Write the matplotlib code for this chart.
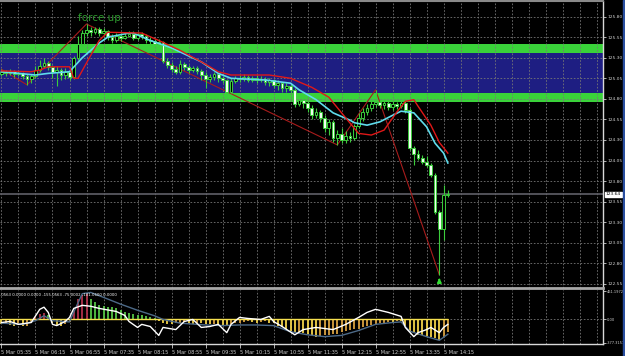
"""MT4-style M5 chart: candles, zones, MAs, zigzag and oscillator sub-window."""

import matplotlib

matplotlib.use("Agg")
import matplotlib.pyplot as plt
import numpy as np
from matplotlib.patches import Rectangle

# ---- data -----------------------------------------------------------------
time_labels = [
    "5 Mar 05:35", "5 Mar 06:15", "5 Mar 06:55", "5 Mar 07:35", "5 Mar 08:15",
    "5 Mar 08:55", "5 Mar 09:35", "5 Mar 10:15", "5 Mar 10:55", "5 Mar 11:35",
    "5 Mar 12:15", "5 Mar 12:55", "5 Mar 13:35", "5 Mar 14:15",
]
label_bars = [0, 8, 16, 24, 32, 40, 48, 56, 64, 72, 80, 88, 96, 104]

opens = [
    125.10, 125.13, 125.11, 125.14, 125.10, 125.11, 125.08, 125.04, 125.08, 125.15,
    125.20, 125.23, 125.19, 125.13, 125.15, 125.09, 125.13, 125.06, 125.30, 125.47,
    125.60, 125.64, 125.61, 125.65, 125.60, 125.62, 125.55, 125.51, 125.56, 125.54,
    125.57, 125.59, 125.54, 125.59, 125.56, 125.51, 125.50, 125.47, 125.49, 125.26,
    125.21, 125.16, 125.13, 125.22, 125.19, 125.15, 125.17, 125.14, 125.09, 125.04,
    125.06, 125.10, 125.05, 125.03, 124.88, 125.02, 125.05, 125.04, 125.06, 125.03,
    125.05, 125.03, 125.04, 125.00, 125.03, 124.97, 124.99, 124.93, 124.96, 124.91,
    124.74, 124.79, 124.75, 124.69, 124.60, 124.64, 124.57, 124.44, 124.52, 124.32,
    124.37, 124.30, 124.35, 124.32, 124.47, 124.57, 124.64, 124.69, 124.74, 124.76,
    124.72, 124.75, 124.70, 124.74, 124.71, 124.75, 124.66, 124.20, 124.13, 124.08,
    124.03, 124.00, 123.87, 123.42, 123.22, 123.63,
]
highs = [
    125.16, 125.15, 125.16, 125.15, 125.14, 125.13, 125.10, 125.10, 125.20, 125.27,
    125.30, 125.26, 125.21, 125.20, 125.17, 125.17, 125.15, 125.32, 125.57, 125.64,
    125.71, 125.67, 125.67, 125.67, 125.66, 125.64, 125.59, 125.60, 125.60, 125.61,
    125.62, 125.62, 125.61, 125.61, 125.59, 125.55, 125.53, 125.53, 125.50, 125.30,
    125.25, 125.20, 125.27, 125.25, 125.21, 125.20, 125.20, 125.16, 125.13, 125.10,
    125.13, 125.11, 125.08, 125.04, 125.05, 125.08, 125.09, 125.10, 125.09, 125.08,
    125.09, 125.08, 125.06, 125.05, 125.04, 125.03, 125.00, 124.99, 124.98, 124.93,
    124.83, 124.81, 124.77, 124.72, 124.69, 124.66, 124.60, 124.55, 124.54, 124.42,
    124.44, 124.41, 124.40, 124.49, 124.63, 124.69, 124.74, 124.79, 124.91, 124.79,
    124.79, 124.77, 124.77, 124.76, 124.79, 124.79, 124.69, 124.23, 124.18, 124.12,
    124.10, 124.02, 123.90, 123.45, 123.75, 123.69,
]
lows = [
    125.08, 125.08, 125.09, 125.06, 125.08, 125.04, 124.97, 124.99, 125.05, 125.13,
    125.17, 125.15, 125.05, 124.96, 125.03, 125.04, 125.03, 125.04, 125.27, 125.44,
    125.56, 125.57, 125.59, 125.56, 125.57, 125.51, 125.48, 125.49, 125.50, 125.53,
    125.55, 125.51, 125.51, 125.53, 125.48, 125.47, 125.43, 125.44, 125.23, 125.17,
    125.13, 125.10, 125.10, 125.15, 125.11, 125.13, 125.10, 125.03, 124.93, 125.00,
    125.03, 125.00, 124.99, 124.85, 124.87, 124.99, 125.00, 125.02, 125.00, 125.00,
    124.99, 125.00, 124.97, 124.96, 124.93, 124.91, 124.88, 124.88, 124.87, 124.70,
    124.71, 124.69, 124.64, 124.55, 124.57, 124.52, 124.40, 124.36, 124.27, 124.24,
    124.26, 124.26, 124.27, 124.30, 124.44, 124.53, 124.60, 124.65, 124.70, 124.69,
    124.68, 124.66, 124.66, 124.68, 124.69, 124.63, 124.18, 124.00, 124.06, 124.01,
    123.97, 123.85, 123.40, 122.66, 123.08, 123.61,
]
closes = [
    125.13, 125.11, 125.14, 125.10, 125.11, 125.08, 125.04, 125.08, 125.15, 125.20,
    125.23, 125.19, 125.13, 125.15, 125.09, 125.13, 125.06, 125.30, 125.47, 125.60,
    125.64, 125.61, 125.65, 125.60, 125.62, 125.55, 125.51, 125.56, 125.54, 125.57,
    125.59, 125.54, 125.59, 125.56, 125.51, 125.50, 125.47, 125.49, 125.26, 125.21,
    125.16, 125.13, 125.22, 125.19, 125.15, 125.17, 125.14, 125.09, 125.04, 125.06,
    125.10, 125.05, 125.03, 124.88, 125.02, 125.05, 125.04, 125.06, 125.03, 125.05,
    125.03, 125.04, 125.00, 125.03, 124.97, 124.99, 124.93, 124.96, 124.91, 124.74,
    124.79, 124.75, 124.69, 124.60, 124.64, 124.57, 124.44, 124.52, 124.32, 124.37,
    124.30, 124.35, 124.32, 124.47, 124.57, 124.64, 124.69, 124.74, 124.76, 124.72,
    124.75, 124.70, 124.74, 124.71, 124.75, 124.66, 124.20, 124.13, 124.08, 124.03,
    124.00, 123.87, 123.42, 123.22, 123.63, 123.64,
]

zone_levels = [125.47, 125.36, 124.87, 124.76]

red_idx = [0, 7, 9, 11, 16, 17, 18, 21, 23, 25, 33, 37, 42, 47, 51, 54, 63, 68,
           73, 77, 80, 84, 87, 90, 93, 95, 97, 98, 101, 103, 105]
red_val = [125.14, 125.13, 125.15, 125.19, 125.19, 125.05, 125.05, 125.33, 125.51,
           125.61, 125.60, 125.51, 125.39, 125.25, 125.13, 125.09, 125.09, 125.05,
           124.94, 124.82, 124.63, 124.38, 124.36, 124.42, 124.64, 124.77, 124.79,
           124.71, 124.48, 124.27, 124.14]

cyan_idx = [0, 8, 11, 16, 19, 23, 25, 30, 31, 35, 40, 47, 51, 54, 62, 68, 70, 74,
            78, 82, 83, 86, 89, 92, 94, 97, 100, 102, 104, 105]
cyan_val = [125.13, 125.09, 125.11, 125.13, 125.30, 125.48, 125.55, 125.60, 125.60,
            125.51, 125.42, 125.25, 125.11, 125.05, 125.03, 124.99, 124.91, 124.79,
            124.63, 124.54, 124.51, 124.48, 124.52, 124.60, 124.65, 124.63, 124.46,
            124.26, 124.14, 124.02]

zigzag_idx = [0, 6, 20, 79, 88, 103]

price_ticks = [125.80, 125.55, 125.30, 125.05, 124.80, 124.55, 124.30,
               124.05, 123.80, 123.55, 123.30, 123.05, 122.80, 122.55]

hist = [
    -80, -70, -90, -100, -90, -110, -100, -60, 40, 90,
    110, 80, -60, -90, -100, -80, -40, 130, 330, 400,
    410, 330, 280, 240, 215, 205, 200, 180, 150, 120,
    110, 95, 80, 65, 50, 40, 30, -30, -50, -70,
    -80, -60, -50, -40, -60, -70, -50, -60, -80, -80,
    -70, -90, -100, -110, -80, -60, -50, -40, -30, -40,
    -50, -40, -30, -50, -60, -100, -130, -160, -190, -210,
    -200, -220, -240, -260, -280, -270, -260, -250, -240, -230,
    -210, -190, -170, -160, -150, -130, -110, -90, -70, -60,
    -50, -40, -40, -30, -30, -100, -180, -220, -250, -260,
    -270, -290, -310, -330, -280, -200,
]

white_idx = [0, 2, 4, 7, 9, 10, 11, 12, 13, 15, 16, 17, 19, 21, 23, 27, 29, 30,
             32, 33, 35, 37, 38, 41, 43, 45, 47, 49, 51, 53, 54, 56, 58, 61, 63,
             64, 66, 69, 71, 74, 78, 81, 84, 86, 88, 91, 94, 95, 97, 98, 100, 101,
             103, 104, 105]
white_val = [-50, -33, -80, -50, 165, 200, 115, -80, -100, -33, 33, 180, 230, 215,
             180, 130, 66, -33, -130, -80, -115, -260, -130, -165, -33, 0, -130,
             -115, -80, -215, -80, 33, 16, 0, 50, -33, -115, -250, -165, -130,
             -165, -80, 33, 115, 165, 115, 50, -130, -280, -215, -165, -130, -215,
             -130, -80]

signal_idx = [0, 5, 8, 10, 12, 16, 17, 19, 21, 24, 28, 32, 36, 38, 42, 48, 52, 56,
              60, 64, 68, 72, 76, 80, 84, 88, 92, 94, 96, 100, 103, 105]
signal_val = [-60, -80, -20, 60, -20, -40, 120, 420, 440, 360, 250, 150, 60, 0,
              -60, -90, -100, -90, -90, -100, -200, -250, -280, -260, -180, -80,
              -50, -40, -190, -280, -340, -240]

sub_ticks = [461.1972, 0.0, -377.3151]
sub_tick_labels = ["461.1972", "0.00", "-377.3151"]
sub_header = ".0563 0.0000 0.0000 -155.0563 -75.0002 -101.0600 0.0000"
signal_bar = 103

# ---- styling --------------------------------------------------------------
W, H = 625, 356
WICK = "#3ccc3c"
GRID = "#767676"
TXT = "#d0d0d0"
GRID_LS = (0, (2, 2))
AX_FS = 3.2

plt.rcParams["font.family"] = ["DejaVu Sans"]

fig = plt.figure(figsize=(W / 100, H / 100), dpi=100, facecolor="black")
ax = fig.add_axes([0, 1 - 288 / H, 603 / W, 287 / H])
sub = fig.add_axes([0, 1 - 344 / H, 603 / W, 54 / H])

x = np.arange(len(closes))
o, h, l, c = (np.array(a) for a in (opens, highs, lows, closes))

for a in (ax, sub):
    a.set_facecolor("black")
    a.set_xlim(-0.35, 141.5)
    a.spines["left"].set_visible(False)
    a.spines["right"].set_color("#d8d8d8")
    a.spines["right"].set_linewidth(1)
    a.yaxis.tick_right()

# ---- main window ----------------------------------------------------------
ax.set_ylim(122.50, 125.99)
ax.spines["top"].set_color("#8a8a8a")
ax.spines["top"].set_linewidth(1.5)
ax.spines["bottom"].set_color("#a8a8a8")
ax.spines["bottom"].set_linewidth(2)

ax.axhspan(zone_levels[1], zone_levels[0], color="#3ad23a", lw=0, zorder=0.2)
ax.axhspan(zone_levels[2], zone_levels[1], color="#1e1e82", lw=0, zorder=0.2)
ax.axhspan(zone_levels[3], zone_levels[2], color="#3ad23a", lw=0, zorder=0.2)

ax.set_xticks(np.arange(0, 142, 4))
ax.set_yticks(price_ticks)
ax.set_yticklabels([f"{t:.2f}" for t in price_ticks])
ax.tick_params(axis="x", length=0, labelbottom=False)
ax.tick_params(axis="y", colors=TXT, labelsize=AX_FS, length=2.5, width=0.6, pad=0.8)
ax.set_axisbelow("line")
ax.grid(True, color=GRID, lw=0.6, linestyle=GRID_LS)

# current price line and its label
ax.axhline(c[-1], color="#606068", lw=1.2, zorder=1.6)
ax.text(1.005, c[-1], f"{c[-1]:.2f}", transform=ax.get_yaxis_transform(),
        fontsize=AX_FS, color="black", va="center", ha="left", zorder=10,
        bbox=dict(boxstyle="square,pad=0.15", fc="white", ec="white"))

# zigzag
ax.plot(zigzag_idx, [h[i] if k % 2 == 0 else l[i] for k, i in enumerate(zigzag_idx)],
        color="#a81c1c", lw=0.8, zorder=2)

# candles
up = c >= o
ax.vlines(x, l, h, color=WICK, lw=0.8, zorder=3)
body_lo = np.minimum(o, c)
body_h = np.maximum(np.abs(c - o), 0.008)
ax.bar(x[up], body_h[up], bottom=body_lo[up], width=0.65, color="black",
       edgecolor=WICK, lw=0.7, zorder=4)
ax.bar(x[~up], body_h[~up], bottom=body_lo[~up], width=0.65, color="#f0fff0",
       edgecolor=WICK, lw=0.7, zorder=4)

# moving averages
ax.plot(cyan_idx, cyan_val, color="#5fdcec", lw=1.2, zorder=5)
ax.plot(red_idx, red_val, color="#e01818", lw=1.0, zorder=6)

ax.text(23.1, 125.78, "force up", color="#2e9a2e", fontsize=7.5,
        ha="center", va="center", zorder=7)
ax.annotate("", xy=(signal_bar, l[signal_bar] - 0.005),
            xytext=(signal_bar, l[signal_bar] - 0.10),
            arrowprops=dict(arrowstyle="-|>", color="#33dd33", lw=1.2,
                            mutation_scale=6), zorder=8)

# ---- oscillator window ----------------------------------------------------
sub.set_ylim(-400, 480)
sub.spines["top"].set_visible(False)
sub.spines["bottom"].set_color("#d8d8d8")
sub.spines["bottom"].set_linewidth(1)

sub.set_xticks(label_bars)
sub.set_xticklabels(time_labels, ha="left")
sub.set_xticks(np.arange(0, 142, 4), minor=True)
sub.tick_params(axis="x", which="major", colors=TXT, labelsize=3.6, length=3,
                width=0.6, pad=1)
sub.tick_params(axis="x", which="minor", length=0)
sub.set_yticks(sub_ticks)
sub.set_yticklabels(sub_tick_labels)
sub.tick_params(axis="y", colors=TXT, labelsize=2.6, length=2, width=0.6, pad=0.6)
sub.grid(True, which="both", axis="x", color=GRID, lw=0.6, linestyle=GRID_LS)
sub.axhline(0, color=GRID, lw=0.6, linestyle=GRID_LS, zorder=0.5)

hv = np.array(hist)
prev = np.concatenate([[hv[0]], hv[:-1]])
colors = np.where(hv >= 0,
                  np.where(hv >= prev, "#b0304a", "#55c545"),
                  np.where(hv <= prev, "#f2d24a", "#d8a040"))
sub.vlines(x, 0, hv, colors=colors, lw=1.3, zorder=2)
sub.hlines(0, x[0], x[-1], color="#f5e050", lw=1.0, zorder=3)
sub.plot(signal_idx, signal_val, color="#4d6a88", lw=1.0, zorder=4)
sub.plot(white_idx, white_val, color="white", lw=1.0, zorder=5)
sub.text(0.0, 0.9, sub_header, transform=sub.transAxes, fontsize=2.8,
         color="white", ha="left", va="center", zorder=6)

# right-hand edge strip
fig.patches.append(Rectangle((622.5 / W, 0), 2.5 / W, 1, transform=fig.transFigure,
                             color="#2a4fa0", zorder=0))

fig.savefig("out.png", dpi=100, facecolor="black")
